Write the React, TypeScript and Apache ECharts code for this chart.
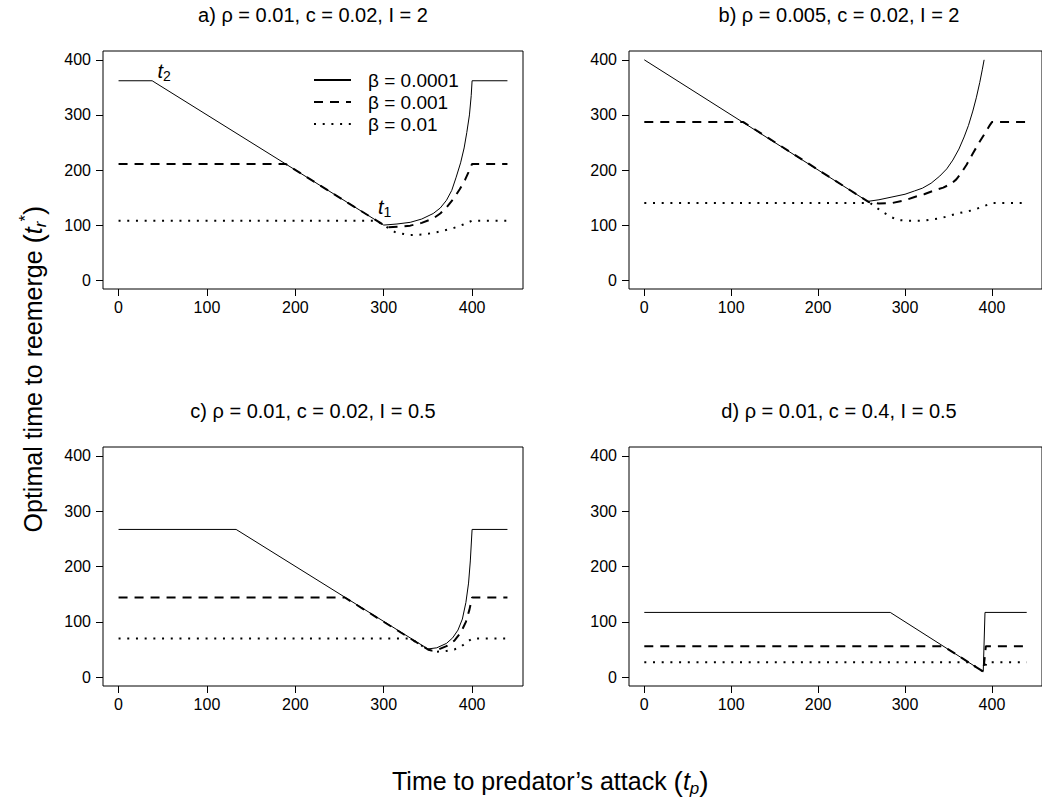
import React, { useEffect, useRef } from "react";
import * as echarts from "echarts";

// ---------- data ----------
const X_TICKS = [0, 100, 200, 300, 400];
const Y_TICKS = [0, 100, 200, 300, 400];

const PANEL_TITLES = [
  "a) ρ = 0.01, c = 0.02, I = 2",
  "b) ρ = 0.005, c = 0.02, I = 2",
  "c) ρ = 0.01, c = 0.02, I = 0.5",
  "d) ρ = 0.01, c = 0.4, I = 0.5",
];
const SERIES_NAMES = ["β = 0.0001", "β = 0.001", "β = 0.01"];

// panel a
const aSolidX = [0, 38, 300, 315, 330, 343, 356, 364, 371, 377, 382, 387, 391, 394, 397, 399, 400, 440];
const aSolidY = [362, 362, 100, 102, 105, 111, 121, 131, 145, 163, 187, 213, 240, 268, 300, 335, 362, 362];
const aDashX = [0, 189, 300, 305, 318, 330, 343, 356, 364, 371, 380, 386, 392, 396, 400, 440];
const aDashY = [211, 211, 100, 96, 97, 99, 104, 112, 121, 132, 150, 165, 182, 196, 211, 211];
const aDotX = [0, 292, 300, 314, 330, 345, 360, 378, 390, 400, 440];
const aDotY = [108, 108, 100, 86, 82, 83, 87, 94, 101, 108, 108];

// panel b
const bSolidX = [0, 257, 270, 285, 300, 311, 320, 330, 340, 348, 355, 362, 368, 373, 378, 382, 386, 389, 391];
const bSolidY = [400, 143, 146, 151, 156, 162, 167, 176, 189, 202, 218, 238, 260, 281, 307, 331, 359, 383, 400];
const bDashX = [0, 114, 258, 270, 285, 300, 311, 322, 334, 344, 353, 359, 364, 371, 378, 385, 392, 397, 400, 440];
const bDashY = [287, 287, 142, 139, 140, 145, 151, 156, 163, 168, 175, 183, 193, 210, 230, 249, 267, 280, 287, 287];
const bDotX = [0, 260, 266, 276, 285, 292, 305, 320, 340, 360, 378, 390, 400, 440];
const bDotY = [140, 140, 133, 122, 114, 109, 108, 108, 112, 121, 127, 134, 140, 140];

// panel c
const cSolidX = [0, 133, 350, 360, 371, 378, 384, 389, 393, 396, 398, 400, 440];
const cSolidY = [267, 267, 51, 53, 61, 71, 85, 105, 135, 170, 210, 267, 267];
const cDashX = [0, 256, 350, 354, 362, 371, 380, 387, 393, 397, 400, 440];
const cDashY = [144, 144, 50, 48, 50, 56, 66, 80, 100, 122, 144, 144];
const cDotX = [0, 330, 350, 360, 370, 380, 388, 395, 400, 440];
const cDotY = [70, 70, 50, 46, 47, 50, 56, 64, 70, 70];

// panel d
const dSolidX = [0, 283, 390, 392, 440];
const dSolidY = [117, 117, 10, 117, 117];
const dDashX = [0, 344, 390, 393, 440];
const dDashY = [56, 56, 10, 56, 56];
const dDotX = [0, 373, 390, 394, 440];
const dDotY = [27, 27, 10, 27, 27];

const PANELS = [
  [[aSolidX, aSolidY], [aDashX, aDashY], [aDotX, aDotY]],
  [[bSolidX, bSolidY], [bDashX, bDashY], [bDotX, bDotY]],
  [[cSolidX, cSolidY], [cDashX, cDashY], [cDotX, cDotY]],
  [[dSolidX, dSolidY], [dDashX, dDashY], [dDotX, dDotY]],
];

// annotation anchors (panel a, solid line)
const T2_POINT = [38, 362];
const T1_POINT = [300, 100];

// ---------- styling ----------
const FONT = "'Liberation Sans', Arial, Helvetica, sans-serif";
const LINE_STYLES = [
  { color: "#000", width: 1, type: "solid" },
  { color: "#000", width: 2, type: [9, 7] },
  { color: "#000", width: 2, type: [2, 6.7] },
];
const GRIDS = [
  { left: 103, top: 51, width: 420, height: 238 },
  { left: 629, top: 51, width: 420, height: 238 },
  { left: 103, top: 447, width: 420, height: 239 },
  { left: 629, top: 447, width: 420, height: 239 },
];
const TITLE_POS = [
  [313, 15],
  [839, 15],
  [313, 411],
  [839, 411],
];

export default function App() {
  const ref = useRef<HTMLDivElement>(null);

  useEffect(() => {
    if (!ref.current) return;
    const chart = echarts.init(ref.current, undefined, { renderer: "svg" });

    const grid = GRIDS.map((g) => ({
      ...g,
      show: true,
      borderColor: "#000",
      borderWidth: 1,
      backgroundColor: "transparent",
      containLabel: false,
    }));

    const xAxis = GRIDS.map((_, i) => ({
      type: "value",
      gridIndex: i,
      min: -17.6,
      max: 457.6,
      axisLine: { show: false, onZero: false },
      axisTick: {
        show: true,
        inside: false,
        length: 7,
        customValues: X_TICKS,
        lineStyle: { color: "#000", width: 1 },
      },
      axisLabel: {
        show: true,
        customValues: X_TICKS,
        color: "#000",
        fontSize: 16,
        fontFamily: FONT,
        margin: 10,
      },
      splitLine: { show: false },
    }));

    const yAxis = GRIDS.map((_, i) => ({
      type: "value",
      gridIndex: i,
      min: -16,
      max: 416,
      axisLine: { show: false, onZero: false },
      axisTick: {
        show: true,
        inside: false,
        length: 7,
        customValues: Y_TICKS,
        lineStyle: { color: "#000", width: 1 },
      },
      axisLabel: {
        show: true,
        customValues: Y_TICKS,
        color: "#000",
        fontSize: 16,
        fontFamily: FONT,
        margin: 12,
      },
      splitLine: { show: false },
    }));

    const tLabelRich = {
      t: { fontStyle: "italic", fontSize: 20, fontFamily: FONT, color: "#000" },
      s: { fontSize: 14, fontFamily: FONT, color: "#000", padding: [10, 0, 0, 0] },
    };

    const series: any[] = [];
    PANELS.forEach((panel, pi) => {
      panel.forEach(([xs, ys], si) => {
        const s: any = {
          type: "line",
          name: SERIES_NAMES[si],
          xAxisIndex: pi,
          yAxisIndex: pi,
          data: xs.map((x: number, k: number) => [x, ys[k]]),
          symbol: "none",
          showSymbol: false,
          lineStyle: LINE_STYLES[si],
          itemStyle: { color: "#000" },
          clip: true,
          silent: true,
        };
        if (pi === 0 && si === 0) {
          s.markPoint = {
            symbol: "circle",
            symbolSize: 1,
            itemStyle: { color: "rgba(0,0,0,0)" },
            silent: true,
            data: [
              {
                coord: T2_POINT,
                label: {
                  show: true,
                  position: "inside",
                  offset: [12, -10],
                  formatter: "{t|t}{s|2}",
                  rich: tLabelRich,
                },
              },
              {
                coord: T1_POINT,
                label: {
                  show: true,
                  position: "inside",
                  offset: [1, -18],
                  formatter: "{t|t}{s|1}",
                  rich: tLabelRich,
                },
              },
            ],
          };
        }
        series.push(s);
      });
    });

    const graphic: any[] = PANEL_TITLES.map((t, i) => ({
      type: "text",
      x: TITLE_POS[i][0],
      y: TITLE_POS[i][1],
      silent: true,
      style: {
        text: t,
        fill: "#000",
        fontSize: 20,
        fontFamily: FONT,
        align: "center",
        verticalAlign: "middle",
      },
    }));

    graphic.push({
      type: "text",
      x: 33,
      y: 369,
      rotation: Math.PI / 2,
      silent: true,
      style: {
        text: "{n|Optimal time to reemerge }{p|(}{t|t}{sub|r}{sup|*}{p|)}",
        align: "center",
        verticalAlign: "middle",
        fill: "#000",
        rich: {
          n: { fontSize: 25, fontFamily: FONT, fill: "#000" },
          p: { fontSize: 28, fontFamily: FONT, fill: "#000" },
          t: { fontSize: 25, fontFamily: FONT, fontStyle: "italic", fill: "#000" },
          sub: { fontSize: 17, fontFamily: FONT, fontStyle: "italic", fill: "#000", padding: [14, 0, 0, 0] },
          sup: { fontSize: 17, fontFamily: FONT, fill: "#000", padding: [0, 0, 16, 0] },
        },
      },
    });

    graphic.push({
      type: "text",
      x: 392,
      y: 781,
      silent: true,
      style: {
        text: "{n|Time to predator’s attack }{p|(}{t|t}{sub|p}{p|)}",
        align: "left",
        verticalAlign: "middle",
        fill: "#000",
        rich: {
          n: { fontSize: 25, fontFamily: FONT, fill: "#000" },
          p: { fontSize: 28, fontFamily: FONT, fill: "#000" },
          t: { fontSize: 25, fontFamily: FONT, fontStyle: "italic", fill: "#000" },
          sub: { fontSize: 17, fontFamily: FONT, fontStyle: "italic", fill: "#000", padding: [14, 0, 0, 0] },
        },
      },
    });

    chart.setOption({
      animation: false,
      backgroundColor: "#fff",
      grid,
      xAxis,
      yAxis,
      series,
      graphic,
      legend: {
        show: true,
        orient: "vertical",
        left: 313,
        top: 70,
        padding: 0,
        data: SERIES_NAMES,
        itemWidth: 37,
        itemHeight: 14,
        itemGap: 2,
        selectedMode: false,
        itemStyle: { opacity: 0 },
        textStyle: {
          color: "#000",
          fontSize: 19,
          fontFamily: FONT,
          lineHeight: 20,
          padding: [0, 0, 0, 12],
        },
      },
    });

    return () => chart.dispose();
  }, []);

  return (
    <div
      ref={ref}
      style={{ position: "fixed", left: 0, top: 0, width: 1042, height: 803, background: "#fff" }}
    />
  );
}
